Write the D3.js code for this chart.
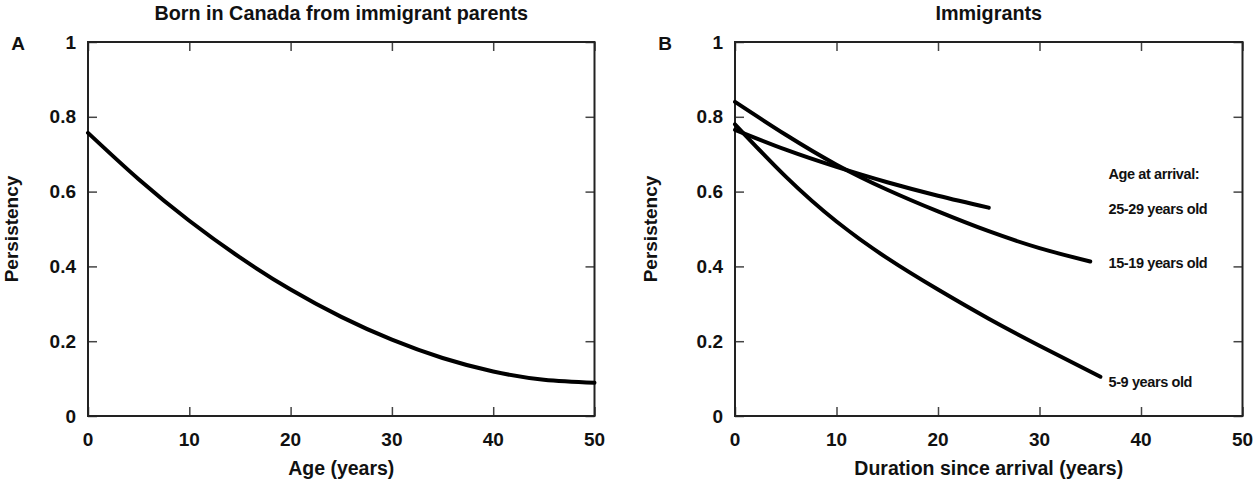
<!DOCTYPE html>
<html>
<head>
<meta charset="utf-8">
<script src="https://cdn.jsdelivr.net/npm/d3@7"></script>
<style>
  html, body { margin: 0; padding: 0; background: #fff; }
  svg { display: block; }
  text { font-family: "Liberation Sans", Arial, sans-serif; font-weight: bold; fill: #111; }
</style>
</head>
<body>
<svg id="chart" width="1258" height="487"></svg>
<script>
// ---- Data ----
const xTicks = [0, 10, 20, 30, 40, 50];
const yTicks = [0, 0.2, 0.4, 0.6, 0.8, 1];
const yTickLabels = ["0", "0.2", "0.4", "0.6", "0.8", "1"];

// Panel A: Born in Canada from immigrant parents
const ageA = [0, 5, 10, 15, 20, 25, 30, 35, 40, 45, 50];
const persA = [0.757, 0.633, 0.522, 0.424, 0.338, 0.265, 0.204, 0.155, 0.119, 0.097, 0.089];

// Panel B: Immigrants, by age at arrival
const durB_5_9 = [0, 5, 10, 15, 20, 25, 30, 36];
const persB_5_9 = [0.78, 0.64, 0.52, 0.422, 0.338, 0.26, 0.188, 0.105];
const durB_15_19 = [0, 5, 10, 15, 20, 25, 30, 35];
const persB_15_19 = [0.84, 0.752, 0.672, 0.605, 0.547, 0.494, 0.449, 0.413];
const durB_25_29 = [0, 5, 10, 15, 20, 25];
const persB_25_29 = [0.765, 0.712, 0.666, 0.625, 0.589, 0.557];

const seriesLabelsB = ["25-29 years old", "15-19 years old", "5-9 years old"];
const seriesLabelYB = [0.553, 0.41, 0.092];

// ---- Drawing ----
const svg = d3.select("#chart");
svg.append("rect").attr("width", 1258).attr("height", 487).attr("fill", "#fff");

const plotTop = 42, plotBottom = 416;
const y = d3.scaleLinear().domain([0, 1]).range([plotBottom, plotTop]);

function panel(x0, x1, letter, title, xTitle) {
  const x = d3.scaleLinear().domain([0, 50]).range([x0, x1]);
  const g = svg.append("g");
  const tl = 9;
  // ticks on all four sides, pointing inwards
  g.append("g").attr("transform", `translate(0,${plotBottom})`)
    .call(d3.axisBottom(x).tickValues(xTicks).tickSize(-tl).tickFormat(""))
    .call(s => s.select(".domain").remove());
  g.append("g").attr("transform", `translate(0,${plotTop})`)
    .call(d3.axisTop(x).tickValues(xTicks).tickSize(-tl).tickFormat(""))
    .call(s => s.select(".domain").remove());
  g.append("g").attr("transform", `translate(${x0},0)`)
    .call(d3.axisLeft(y).tickValues(yTicks).tickSize(-tl).tickFormat(""))
    .call(s => s.select(".domain").remove());
  g.append("g").attr("transform", `translate(${x1},0)`)
    .call(d3.axisRight(y).tickValues(yTicks).tickSize(-tl).tickFormat(""))
    .call(s => s.select(".domain").remove());
  g.selectAll(".tick line").attr("stroke", "#444").attr("stroke-width", 1.5);

  // frame
  g.append("rect").attr("x", x0).attr("y", plotTop)
    .attr("width", x1 - x0).attr("height", plotBottom - plotTop)
    .attr("fill", "none").attr("stroke", "#222").attr("stroke-width", 2);

  // tick labels
  g.selectAll(".xl").data(xTicks).enter().append("text")
    .attr("x", d => x(d)).attr("y", 439)
    .attr("text-anchor", "middle").attr("dominant-baseline", "central")
    .attr("font-size", 19).text(d => d);
  g.selectAll(".yl").data(yTicks).enter().append("text")
    .attr("x", x0 - 12).attr("y", d => y(d))
    .attr("text-anchor", "end").attr("dominant-baseline", "central")
    .attr("font-size", 19).text((d, i) => yTickLabels[i]);

  // titles
  g.append("text").attr("x", (x0 + x1) / 2).attr("y", 13)
    .attr("text-anchor", "middle").attr("dominant-baseline", "central")
    .attr("font-size", 19.8).text(title);
  g.append("text").attr("x", (x0 + x1) / 2).attr("y", 468)
    .attr("text-anchor", "middle").attr("dominant-baseline", "central")
    .attr("font-size", 19.5).text(xTitle);
  g.append("text")
    .attr("transform", `translate(${Math.max(x0 - 85, 11)},${(plotTop + plotBottom) / 2}) rotate(-90)`)
    .attr("text-anchor", "middle").attr("dominant-baseline", "central")
    .attr("font-size", 19).text("Persistency");
  g.append("text").attr("x", x0 - 70).attr("y", plotTop + 1)
    .attr("text-anchor", "middle").attr("dominant-baseline", "central")
    .attr("font-size", 19).text(letter);
  return { g, x };
}

function drawCurve(p, xs, ys) {
  const line = d3.line().x(d => p.x(d[0])).y(d => y(d[1])).curve(d3.curveNatural);
  p.g.append("path").datum(xs.map((v, i) => [v, ys[i]]))
    .attr("d", line).attr("fill", "none").attr("stroke", "#000")
    .attr("stroke-width", 4).attr("stroke-linecap", "round").attr("stroke-linejoin", "round");
}

const pA = panel(88, 594.5, "A", "Born in Canada from immigrant parents", "Age (years)");
drawCurve(pA, ageA, persA);

const pB = panel(735, 1242.5, "B", "Immigrants", "Duration since arrival (years)");
drawCurve(pB, durB_5_9, persB_5_9);
drawCurve(pB, durB_15_19, persB_15_19);
drawCurve(pB, durB_25_29, persB_25_29);

const lx = pB.x(36.8);
pB.g.append("text").attr("x", lx).attr("y", 174)
  .attr("dominant-baseline", "central").attr("font-size", 14.5)
  .attr("letter-spacing", -0.4).text("Age at arrival:");
pB.g.selectAll(".sl").data(seriesLabelsB).enter().append("text")
  .attr("x", lx).attr("y", (d, i) => y(seriesLabelYB[i]))
  .attr("dominant-baseline", "central").attr("font-size", 14.5)
  .attr("letter-spacing", -0.4).text(d => d);
</script>
</body>
</html>
